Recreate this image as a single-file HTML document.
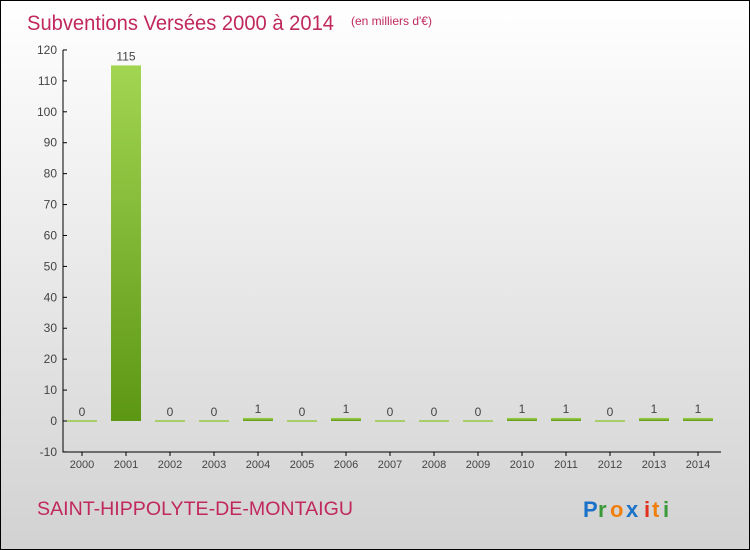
<!DOCTYPE html>
<html><head><meta charset="utf-8"><style>
body{margin:0}
#c{position:relative;width:748px;height:548px;border:1px solid #000;background:linear-gradient(#fff,#d2d2d2);font-family:"Liberation Sans",sans-serif;overflow:hidden}
</style></head><body>
<div id="c">
<svg width="748" height="548" style="position:absolute;left:0;top:0" id="s">
<defs><linearGradient id="g" x1="0" y1="0" x2="0" y2="1"><stop offset="0" stop-color="#a2d552"/><stop offset="1" stop-color="#5c9714"/></linearGradient></defs>
<text x="26" y="29" font-size="21" fill="#c0285e" textLength="307" lengthAdjust="spacingAndGlyphs">Subventions Versées 2000 à 2014</text>
<text x="350" y="24" font-size="12" fill="#c0285e">(en milliers d'€)</text>
<text x="36" y="514" font-size="19" fill="#c0285e" textLength="316" lengthAdjust="spacingAndGlyphs">SAINT-HIPPOLYTE-DE-MONTAIGU</text>
<g font-size="22" font-weight="bold"><text x="582" y="516" fill="#1a73c8">P</text><text x="597" y="516" fill="#3a9a3a">r</text><text x="609" y="516" fill="#f07f10">o</text><text x="625" y="516" fill="#1a73c8">x</text><text x="643" y="516" fill="#e03020">i</text><text x="651" y="516" fill="#f07f10">t</text><text x="662" y="516" fill="#3a9a3a">i</text></g>
<g id="plot"></g>
</svg>
</div>
<script>
const years=["2000","2001","2002","2003","2004","2005","2006","2007","2008","2009","2010","2011","2012","2013","2014"];
const values=[0,115,0,0,1,0,1,0,0,0,1,1,0,1,1];
const ticks=[-10,0,10,20,30,40,50,60,70,80,90,100,110,120];
const ns="http://www.w3.org/2000/svg";
const p=document.getElementById('plot');
const y=v=>420-(v)*3.092;
const x=i=>81+i*44;
function mk(t,a){const e=document.createElementNS(ns,t);for(const k in a)e.setAttribute(k,a[k]);p.appendChild(e);return e;}
let ax=mk('path',{d:'M62 49V451H720',stroke:'#000',fill:'none'});


ticks.forEach(t=>{
 const l=mk('line',{x1:62,x2:66,y1:y(t),y2:y(t),stroke:'#000'});
 
 
 const tx=mk('text',{x:56,y:y(t)+4,'font-size':12,fill:'#444','text-anchor':'end'});
 tx.textContent=t;
 
 
});
years.forEach((yr,i)=>{
 const cx=x(i),v=values[i];
 const l=mk('line',{x1:cx,x2:cx,y1:451,y2:455,stroke:'#000'});
 
 
 const t=mk('text',{x:cx,y:467,'font-size':11,fill:'#444','text-anchor':'middle'});
 t.textContent=yr;
 
 
 const h=Math.max(2,y(0)-y(v));
 const b=mk('rect',{x:cx-15,y:y(0)-h+(v?0:1),width:30,height:h,fill:v?'url(#g)':'#a6cf6a'});
 
 
 const vl=mk('text',{x:cx,y:y(v)-5,'font-size':12,fill:'#444','text-anchor':'middle'});
 vl.textContent=v;
 
 
});
</script>
</body></html>
